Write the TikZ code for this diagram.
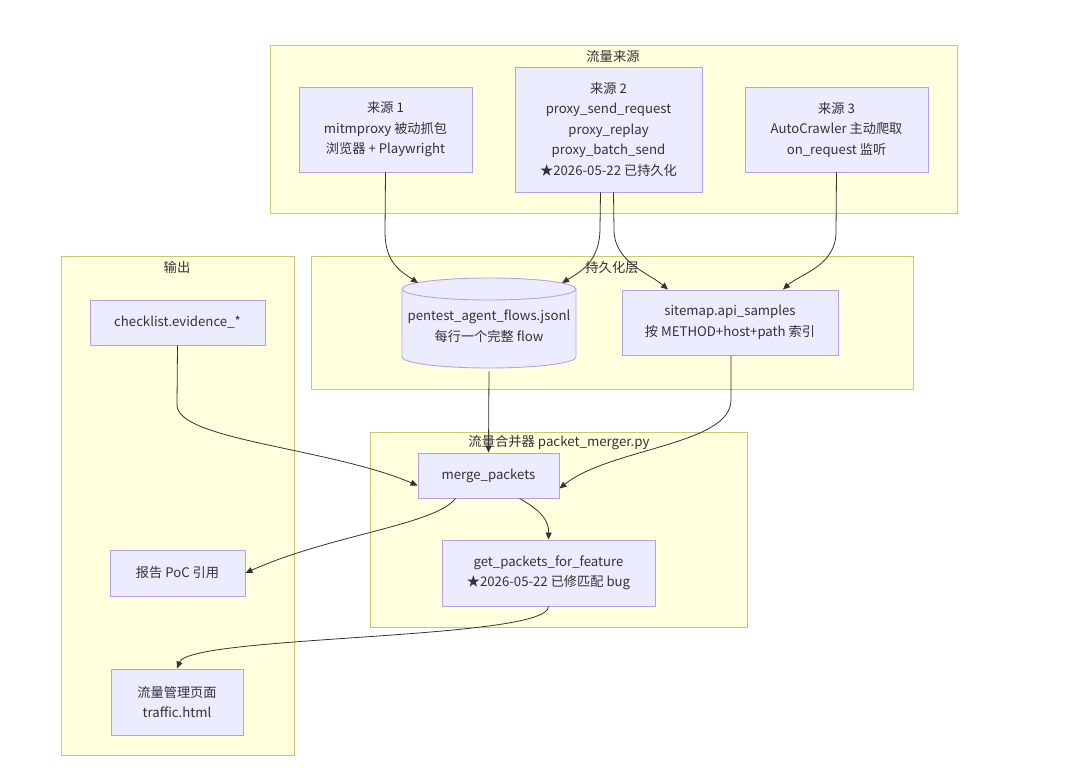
\documentclass[tikz,border=0pt]{standalone}
\usepackage{fontspec}
\setmainfont{Noto Sans CJK SC}
\usetikzlibrary{arrows.meta}
\definecolor{clfill}{HTML}{FFFFDE}
\definecolor{clline}{HTML}{C8C870}
\definecolor{ndfill}{HTML}{ECECFF}
\definecolor{ndline}{HTML}{B9A0E6}
\definecolor{edge}{HTML}{333333}
\tikzset{
  cluster/.style={draw=clline, fill=clfill, line width=0.9pt},
  cltitle/.style={font=\fontsize{13.3}{16}\selectfont, text=black!80, inner sep=0pt},
  nodebox/.style={draw=ndline, fill=ndfill, line width=0.9pt, align=center,
    font=\fontsize{13.2}{20.5}\selectfont, text=black!80, inner sep=0pt},
  conn/.style={draw=edge, line width=0.8pt, -{Triangle[length=7pt,width=6pt]}},
}
\begin{document}
\begin{tikzpicture}[x=1pt,y=-1pt]
\useasboundingbox (0,0) rectangle (1080,779);
% clusters
\draw[cluster] (270,45) rectangle (957,213);
\node[cltitle] (t1) at (613,56) {流量来源};
\draw[cluster] (311,256) rectangle (913,389);
\node[cltitle] (t2) at (612,268) {持久化层};
\draw[cluster] (61,256) rectangle (294,755);
\node[cltitle] (t3) at (177,267) {输出};
\draw[cluster] (370,432) rectangle (747,627);
\node[cltitle] (t4) at (559,443) {流量合并器 packet\_merger.py};
% nodes
\node[nodebox, minimum width=173, minimum height=85] (s1) at (385.5,129.5) {来源 1\\mitmproxy 被动抓包\\浏览器 + Playwright};
\node[nodebox, minimum width=187, minimum height=125] (s2) at (608.5,129.5) {来源 2\\proxy\_send\_request\\proxy\_replay\\proxy\_batch\_send\\★2026-05-22 已持久化};
\node[nodebox, minimum width=183, minimum height=85] (s3) at (836.5,129.5) {来源 3\\AutoCrawler 主动爬取\\on\_request 监听};
% cylinder
\fill[ndfill] (402,289) -- (402,357) .. controls (402,363.08) and (440.95,368) .. (489,368)
  .. controls (537.05,368) and (576,363.08) .. (576,357) -- (576,289)
  .. controls (576,282.92) and (537.05,278) .. (489,278) .. controls (440.95,278) and (402,282.92) .. (402,289) -- cycle;
\draw[ndline, line width=0.9pt] (402,289) -- (402,357) .. controls (402,363.08) and (440.95,368) .. (489,368)
  .. controls (537.05,368) and (576,363.08) .. (576,357) -- (576,289);
\draw[ndline, line width=0.9pt] (489,289) ellipse [x radius=87pt, y radius=11pt];
\node[nodebox, draw=none, fill=none, minimum width=174, minimum height=90] (cyl) at (489,326) {pentest\_agent\_flows.jsonl\\每行一个完整 flow};
\node[nodebox, minimum width=216, minimum height=65] (sm) at (730,322.5) {sitemap.api\_samples\\按 METHOD+host+path 索引};
\node[nodebox, minimum width=175, minimum height=45] (ck) at (177.5,322.5) {checklist.evidence\_*};
\node[nodebox, minimum width=135, minimum height=46] (rp) at (177.5,573) {报告 PoC 引用};
\node[nodebox, minimum width=132, minimum height=66] (tr) at (177,702) {流量管理页面\\traffic.html};
\node[nodebox, minimum width=141, minimum height=45] (mp) at (488.5,475.5) {merge\_packets};
\node[nodebox, minimum width=213, minimum height=66] (gp) at (548.5,573) {get\_packets\_for\_feature\\★2026-05-22 已修匹配 bug};
% edges
\coordinate (c1) at (418,283);
\coordinate (c2) at (562,283);
\draw[conn] (s1.south) -- (385,232) .. controls (385,262) and (400,271) .. (c1);
\draw[conn] ([xshift=-8pt]s2.south) -- (600,228) .. controls (600,262) and (580,272) .. (c2);
\draw[conn] ([xshift=5pt]s2.south) -- (614,230) .. controls (614,262) and (650,274) .. ([xshift=-62pt]sm.north);
\draw[conn] (s3.south) -- (836,232) .. controls (836,266) and (800,274) .. ([xshift=53pt]sm.north);
\draw[conn] (cyl.south) -- (mp.north);
\draw[conn] ([xshift=1pt]sm.south) -- (731,400) .. controls (731,445) and (610,448) .. ([yshift=-13pt]mp.east);
\draw[conn] (ck.south) -- (177,405) .. controls (177,440) and (330,448) .. ([yshift=-10pt]mp.west);
\draw[conn] ([xshift=-33pt]mp.south) .. controls (435,525) and (330,535) .. (rp.east);
\draw[conn] ([xshift=31pt]mp.south) .. controls (540,510) and (549,520) .. (gp.north);
\draw[conn] (gp.south) .. controls (549,640) and (190,635) .. (tr.north);
\end{tikzpicture}
\end{document}
